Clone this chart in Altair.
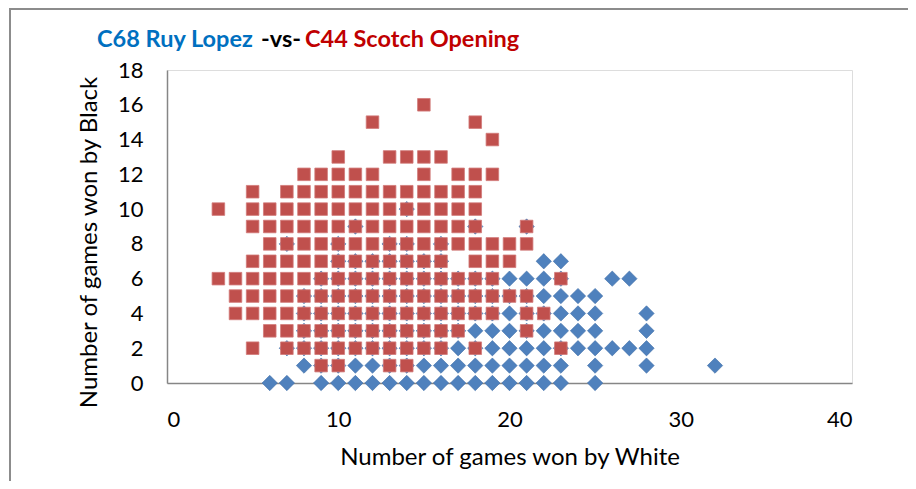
import altair as alt
import pandas as pd

# ---- data: wins by White (x) for each "wins by Black" value (y) ----
# C44 Scotch Opening (red squares)
scotch_y16 = [15]
scotch_y15 = [12, 18]
scotch_y14 = [19]
scotch_y13 = [10, 13, 14, 15, 16]
scotch_y12 = [8, 9, 10, 11, 12, 15, 17, 18, 19]
scotch_y11 = [5, 7, 8, 9, 10, 11, 12, 13, 14, 15, 16, 17, 18]
scotch_y10 = [3, 5, 6, 7, 8, 9, 10, 11, 12, 13, 14, 15, 16, 17, 18]
scotch_y9 = [5, 6, 7, 8, 9, 10, 11, 12, 13, 14, 15, 16, 17, 18, 21]
scotch_y8 = [6, 7, 8, 9, 10, 11, 12, 13, 14, 15, 16, 17, 18, 19, 20, 21]
scotch_y7 = [5, 6, 7, 8, 9, 10, 11, 12, 13, 14, 15, 16, 18, 19, 20]
scotch_y6 = [3, 4, 5, 6, 7, 8, 9, 10, 11, 12, 13, 14, 15, 16, 17, 18, 19, 23]
scotch_y5 = [4, 5, 6, 7, 8, 9, 10, 11, 12, 13, 14, 15, 16, 17, 18, 19, 20, 21]
scotch_y4 = [4, 5, 6, 7, 8, 9, 10, 11, 12, 13, 14, 15, 16, 17, 18, 19, 21, 22]
scotch_y3 = [6, 7, 8, 9, 10, 11, 12, 13, 14, 15, 16, 17, 21]
scotch_y2 = [5, 7, 8, 9, 10, 11, 12, 13, 14, 15, 16, 18, 23]
scotch_y1 = [9, 10, 13, 14]

# C68 Ruy Lopez (blue diamonds)
ruy_y10 = [14]
ruy_y9 = [11, 18, 21]
ruy_y8 = [7, 10, 13, 14, 16]
ruy_y7 = [10, 11, 12, 13, 14, 15, 16, 22, 23]
ruy_y6 = [9, 10, 11, 12, 13, 14, 15, 16, 17, 18, 19, 20, 21, 22, 23, 26, 27]
ruy_y5 = [8, 9, 10, 11, 12, 13, 14, 15, 16, 17, 18, 19, 20, 21, 22, 23, 24, 25]
ruy_y4 = [8, 9, 10, 11, 12, 13, 14, 15, 16, 17, 18, 19, 20, 21, 22, 23, 24, 25, 28]
ruy_y3 = [8, 9, 10, 11, 12, 13, 14, 15, 16, 17, 18, 19, 20, 21, 22, 23, 24, 25, 28]
ruy_y2 = [7, 8, 9, 10, 11, 12, 13, 14, 15, 16, 17, 18, 19, 20, 21, 22, 23, 24, 25, 26, 27, 28]
ruy_y1 = [8, 9, 10, 11, 12, 13, 14, 15, 16, 17, 18, 19, 20, 21, 22, 23, 25, 28, 32]
ruy_y0 = [6, 7, 9, 10, 11, 12, 13, 14, 15, 16, 17, 18, 19, 20, 21, 22, 23, 25]

scotch_rows = [(16, scotch_y16), (15, scotch_y15), (14, scotch_y14), (13, scotch_y13),
               (12, scotch_y12), (11, scotch_y11), (10, scotch_y10), (9, scotch_y9),
               (8, scotch_y8), (7, scotch_y7), (6, scotch_y6), (5, scotch_y5),
               (4, scotch_y4), (3, scotch_y3), (2, scotch_y2), (1, scotch_y1)]
ruy_rows = [(10, ruy_y10), (9, ruy_y9), (8, ruy_y8), (7, ruy_y7), (6, ruy_y6),
            (5, ruy_y5), (4, ruy_y4), (3, ruy_y3), (2, ruy_y2), (1, ruy_y1), (0, ruy_y0)]

x_ticks = [0, 10, 20, 30, 40]
y_ticks = [0, 2, 4, 6, 8, 10, 12, 14, 16, 18]

title_parts = ["C68 Ruy Lopez", "-vs-", "C44 Scotch Opening"]

ruy_df = pd.DataFrame([{"white": x, "black": y} for y, xs in ruy_rows for x in xs])
scotch_df = pd.DataFrame([{"white": x, "black": y} for y, xs in scotch_rows for x in xs])

FONT = "Lato"
AXIS_GRAY = "#868686"

x_enc = alt.X("white:Q", scale=alt.Scale(domain=[0, 40], nice=False, zero=True),
              axis=alt.Axis(values=x_ticks, title="Number of games won by White", grid=False,
                            ticks=False, domainColor=AXIS_GRAY, domainWidth=1.5,
                            labelFontSize=22, labelFont=FONT, labelColor="#000000",
                            labelPadding=26, titleFontSize=24, titleFont=FONT,
                            titleFontWeight="normal", titleColor="#000000", titleY=62))
y_enc = alt.Y("black:Q", scale=alt.Scale(domain=[0, 18], nice=False),
              axis=alt.Axis(values=y_ticks, title="Number of games won by Black", grid=False,
                            ticks=False, domainColor=AXIS_GRAY, domainWidth=1.5,
                            labelFontSize=22, labelFont=FONT, labelColor="#000000",
                            labelPadding=24, titleFontSize=24, titleFont=FONT,
                            titleFontWeight="normal", titleColor="#000000",
                            titleX=-66, titleY=172))

ruy = alt.Chart(ruy_df).mark_point(shape="diamond", filled=True, size=235, opacity=1,
                                   color="#4F81BD", stroke="#3F6FA8", strokeWidth=0.6
                                   ).encode(x=x_enc, y=y_enc)
scotch = alt.Chart(scotch_df).mark_point(shape="square", filled=True, size=158, opacity=1,
                                         color="#C0504D", stroke="#D27A78", strokeWidth=0.8
                                         ).encode(x=x_enc, y=y_enc)

one = alt.Data(values=[{"k": 1}])
border = alt.Chart(one).mark_rect(filled=False, stroke="#8C8C8C", strokeWidth=2).encode(
    x=alt.value(-157), x2=alt.value(790), y=alt.value(-61), y2=alt.value(460))

t1 = alt.Chart(one).mark_text(text=title_parts[0], font=FONT, fontSize=23.5, fontWeight="bold",
                              color="#0070C0", align="left", baseline="alphabetic").encode(
    x=alt.value(-70), y=alt.value(-23))
t2 = alt.Chart(one).mark_text(text=title_parts[1], font=FONT, fontSize=23.5, fontWeight="bold",
                              color="#000000", align="left", baseline="alphabetic").encode(
    x=alt.value(94), y=alt.value(-23))
t3 = alt.Chart(one).mark_text(text=title_parts[2], font=FONT, fontSize=23.5, fontWeight="bold",
                              color="#C00000", align="left", baseline="alphabetic").encode(
    x=alt.value(138), y=alt.value(-23))

chart = alt.layer(border, ruy, scotch, t1, t2, t3).properties(
    width=685, height=313,
    autosize=alt.AutoSizeParams(type="none"),
    padding={"left": 159, "top": 62, "right": 56, "bottom": 98},
).configure_view(stroke=None).configure(background="#FFFFFF")

chart.save("out.html", embed_options={"renderer": "svg", "actions": False})
